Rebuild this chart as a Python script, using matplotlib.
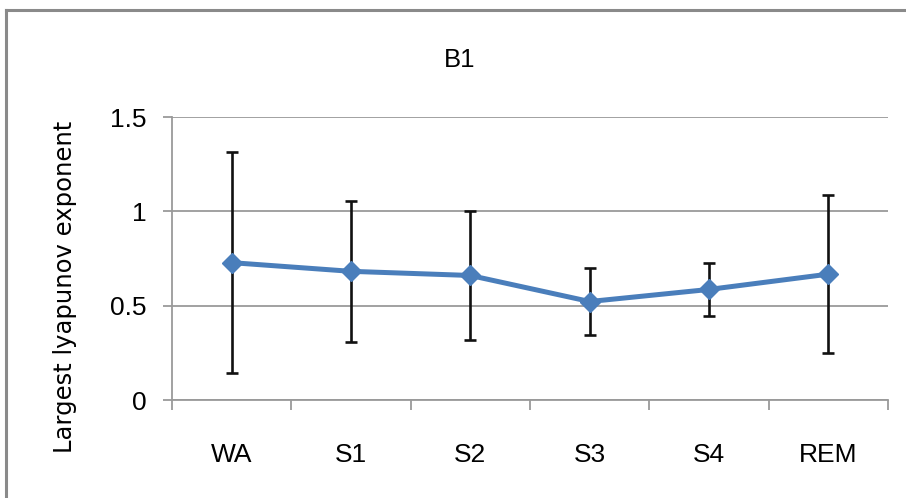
import matplotlib
matplotlib.use("Agg")
import matplotlib.pyplot as plt
from matplotlib.lines import Line2D

stages = ["WA", "S1", "S2", "S3", "S4", "REM"]
lyap_mean = [0.728, 0.682, 0.660, 0.522, 0.586, 0.667]
lyap_err = [0.586, 0.373, 0.340, 0.177, 0.142, 0.418]
y_ticks = [0, 0.5, 1, 1.5]
y_tick_labels = ["0", "0.5", "1", "1.5"]

plt.rcParams['font.family'] = ['Liberation Sans', 'DejaVu Sans']

fig = plt.figure(figsize=(9.06, 4.98), dpi=100)
ax = fig.add_axes([172 / 906, 1 - 400 / 498, 716 / 906, 283 / 498])

x = list(range(len(stages)))
ax.errorbar(x, lyap_mean, yerr=lyap_err, fmt='none', ecolor='#111111',
            elinewidth=1.9, capsize=4, capthick=1.9, zorder=3)
ax.plot(x, lyap_mean, color='#4a7ebb', lw=3.6, marker='D', markersize=10.5,
        zorder=4)

ax.set_xlim(-0.5, len(stages) - 0.5)
ax.set_ylim(0, 1.5)
ax.set_yticks(y_ticks)
ax.set_yticklabels(y_tick_labels)
ax.set_xticks(x)
ax.set_xticklabels(stages)
ax.set_xticks([i - 0.5 for i in range(len(stages) + 1)], minor=True)

ax.grid(axis='y', color='#9a9a9a', lw=1.3)
ax.set_axisbelow(True)
for side in ['top', 'right']:
    ax.spines[side].set_visible(False)
for side in ['left', 'bottom']:
    ax.spines[side].set_color('#9a9a9a')
    ax.spines[side].set_linewidth(1.3)

ax.tick_params(axis='x', which='major', length=0, pad=31, labelsize=19)
ax.tick_params(axis='x', which='minor', length=7, width=1.3, color='#9a9a9a')
ax.tick_params(axis='y', length=6.5, width=1.3, color='#9a9a9a', pad=12,
               labelsize=19)

ax.set_ylabel("Largest lyapunov exponent", fontsize=17.5, family=['DejaVu Sans'])
ax.yaxis.set_label_coords(-0.132, 0.40)

fig.text(460 / 906, 1 - 60 / 498, "B1", ha='center', va='center', fontsize=18.5)

# grey frame on the left and top edge
fig.add_artist(Line2D([6 / 906, 6 / 906], [0, 1 - 10 / 498], color='#8a8a8a',
                      lw=2.2, transform=fig.transFigure))
fig.add_artist(Line2D([6 / 906, 1], [1 - 10 / 498, 1 - 10 / 498], color='#8a8a8a',
                      lw=2.2, transform=fig.transFigure))

fig.savefig("out.png", dpi=100)
